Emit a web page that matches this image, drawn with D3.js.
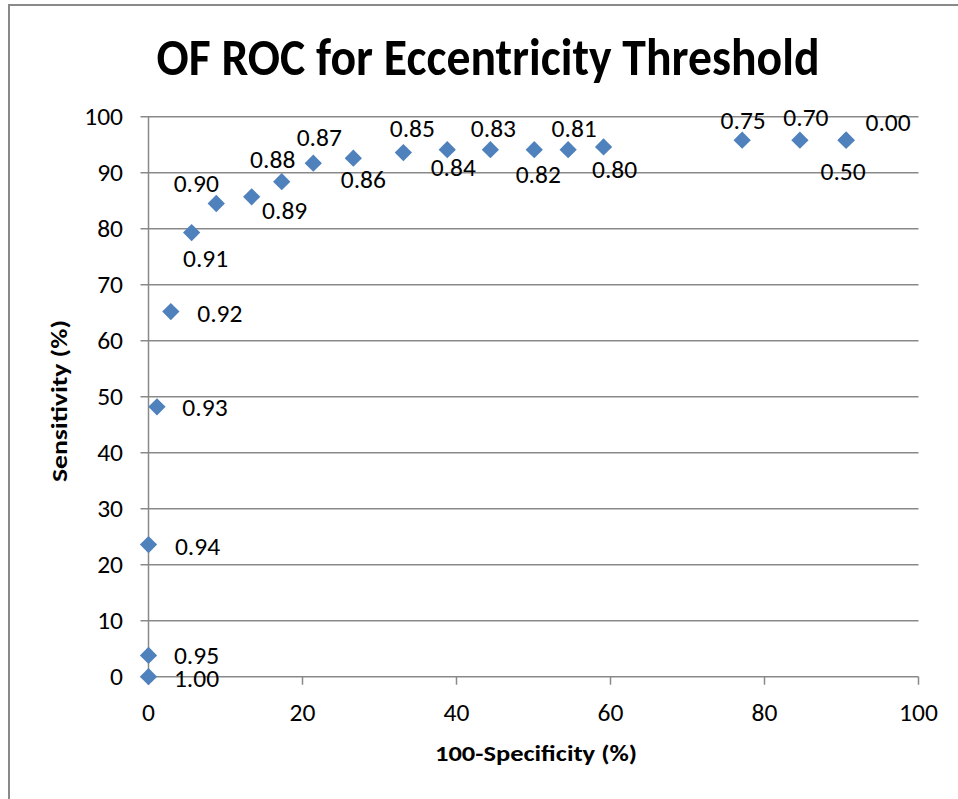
<!DOCTYPE html>
<html>
<head>
<meta charset="utf-8">
<script src="https://cdn.jsdelivr.net/npm/d3@7"></script>
<style>
  body { margin: 0; background: #fff; }
  text { font-family: Carlito, Calibri, "Open Sans", sans-serif; fill: #000; }
</style>
</head>
<body>
<svg id="chart" width="958" height="799"></svg>
<script>
// Threshold for each ROC point, plus read-off values
const thresholds = ['1.00', '0.95', '0.94', '0.93', '0.92', '0.91', '0.90', '0.89', '0.88', '0.87',
  '0.86', '0.85', '0.84', '0.83', '0.82', '0.81', '0.80', '0.75', '0.70', '0.50', '0.00'];
const falsePos = [0, 0, 0, 1.1, 2.9, 5.6, 8.8, 13.4, 17.3, 21.4,
  26.6, 33.1, 38.8, 44.4, 50.1, 54.5, 59.1, 77.1, 84.6, 90.6, 90.6];
const sensitivity = [0, 3.8, 23.6, 48.2, 65.2, 79.3, 84.5, 85.7, 88.4, 91.7,
  92.6, 93.6, 94.1, 94.1, 94.1, 94.1, 94.6, 95.8, 95.8, 95.8, 95.8];

const xTicks = [0, 20, 40, 60, 80, 100];
const yTicks = [0, 10, 20, 30, 40, 50, 60, 70, 80, 90, 100];

// Where each label sits relative to its marker (px)
const labelOffsets = [
  [48, 2], [48, 1], [49, 2], [48, 1], [49, 2], [14, 26], [-20, -20], [33, 14], [-9, -22], [6, -25],
  [10, 22], [9, -24], [6, 18], [3, -21], [4, 25], [6, -21], [11, 23], [1, -19], [6, -22], [-3, 32], [42, -17]
];

const pts = thresholds.map((t, i) => ({t, x: falsePos[i], y: sensitivity[i], off: labelOffsets[i]}));

const plot = {left: 148.5, right: 918.5, top: 116.7, bottom: 676.7};
const grey = '#898989';

const svg = d3.select('#chart');

const x = d3.scaleLinear().domain([0, 100]).range([plot.left, plot.right]);
const y = d3.scaleLinear().domain([0, 100]).range([plot.bottom, plot.top]);

// Outer frame (only top and left visible)
svg.append('path')
  .attr('d', 'M9,799 L9,5 L958,5')
  .attr('fill', 'none')
  .attr('stroke', grey)
  .attr('stroke-width', 2);

// Title
svg.append('text')
  .attr('x', 488)
  .attr('y', 75)
  .attr('text-anchor', 'middle')
  .attr('font-size', 53)
  .attr('font-weight', 'bold')
  .attr('textLength', 663)
  .attr('lengthAdjust', 'spacingAndGlyphs')
  .text('OF ROC for Eccentricity Threshold');

// Horizontal gridlines with short left ticks
svg.append('g')
  .selectAll('line')
  .data(yTicks)
  .enter().append('line')
  .attr('x1', plot.left - 8)
  .attr('x2', plot.right)
  .attr('y1', d => y(d))
  .attr('y2', d => y(d))
  .attr('stroke', grey)
  .attr('stroke-width', 1.5);

// Y axis line
svg.append('line')
  .attr('x1', x(0)).attr('x2', x(0))
  .attr('y1', plot.top).attr('y2', plot.bottom)
  .attr('stroke', grey)
  .attr('stroke-width', 1.5);

// X axis ticks
svg.append('g')
  .selectAll('line')
  .data(xTicks)
  .enter().append('line')
  .attr('x1', d => x(d)).attr('x2', d => x(d))
  .attr('y1', plot.bottom).attr('y2', plot.bottom + 8)
  .attr('stroke', grey)
  .attr('stroke-width', 1.5);

// Tick labels
svg.append('g')
  .selectAll('text')
  .data(yTicks)
  .enter().append('text')
  .attr('x', 123)
  .attr('y', d => y(d) + 8)
  .attr('text-anchor', 'end')
  .attr('font-size', 25.5)
  .text(d => d);

svg.append('g')
  .selectAll('text')
  .data(xTicks)
  .enter().append('text')
  .attr('x', d => x(d))
  .attr('y', 721)
  .attr('text-anchor', 'middle')
  .attr('font-size', 25.5)
  .text(d => d);

// Axis titles
svg.append('text')
  .attr('x', 536)
  .attr('y', 761)
  .attr('text-anchor', 'middle')
  .attr('font-size', 22)
  .attr('font-weight', 'bold')
  .attr('textLength', 202)
  .attr('lengthAdjust', 'spacingAndGlyphs')
  .text('100-Specificity (%)');

svg.append('text')
  .attr('transform', 'translate(67,401) rotate(-90)')
  .attr('text-anchor', 'middle')
  .attr('font-size', 22)
  .attr('font-weight', 'bold')
  .attr('textLength', 162)
  .attr('lengthAdjust', 'spacingAndGlyphs')
  .text('Sensitivity (%)');

// Diamond markers
const diamond = d3.symbol().type(d3.symbolDiamond2).size(190);

svg.append('g')
  .selectAll('path')
  .data(pts)
  .enter().append('path')
  .attr('d', diamond)
  .attr('transform', d => `translate(${x(d.x)},${y(d.y)})`)
  .attr('fill', '#4f81bd');

// Threshold labels
svg.append('g')
  .selectAll('text')
  .data(pts)
  .enter().append('text')
  .attr('x', d => x(d.x) + d.off[0])
  .attr('y', d => y(d.y) + d.off[1] + 8)
  .attr('text-anchor', 'middle')
  .attr('font-size', 25.5)
  .text(d => d.t);
</script>
</body>
</html>
